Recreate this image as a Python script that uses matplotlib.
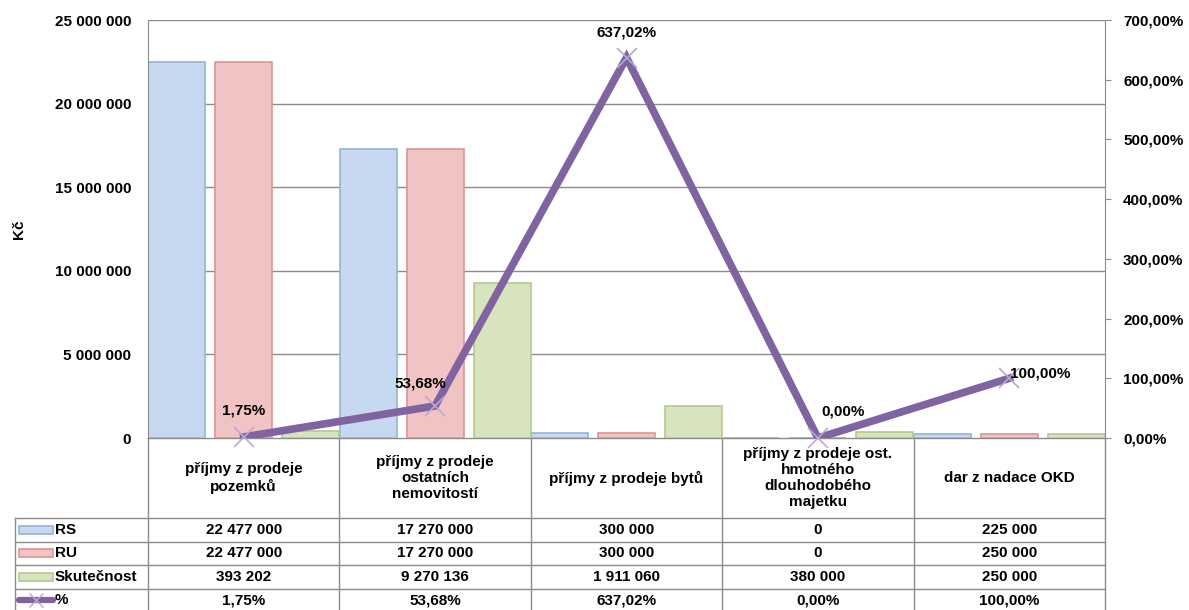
import matplotlib
matplotlib.use("Agg")
from matplotlib import pyplot as plt
from matplotlib.patches import Rectangle
import numpy as np

plt.rcParams['font.family'] = ['Liberation Sans', 'DejaVu Sans']
plt.rcParams['font.weight'] = 'bold'
plt.rcParams['font.size'] = 11

categories = ["příjmy z prodeje\npozemků",
              "příjmy z prodeje\nostatních\nnemovitostí",
              "příjmy z prodeje bytů",
              "příjmy z prodeje ost.\nhmotného\ndlouhodobého\nmajetku",
              "dar z nadace OKD"]
rs = [22477000, 17270000, 300000, 0, 225000]
ru = [22477000, 17270000, 300000, 0, 250000]
skutecnost = [393202, 9270136, 1911060, 380000, 250000]
pct = [1.75, 53.68, 637.02, 0.00, 100.00]

series_names = ["RS", "RU", "Skutečnost"]
fills = ["#c6d9f1", "#f2c3c3", "#d7e4bd"]
edges = ["#95b3d7", "#d99694", "#b5c98e"]
line_col = "#8064a2"
grid_col = "#8c8c8c"


def fmt_num(v):
    return "{:,}".format(int(v)).replace(",", " ")


def fmt_pct(v):
    return "{:.2f}%".format(v).replace(".", ",")


W, H = 1189, 610
fig = plt.figure(figsize=(W / 100, H / 100), dpi=100)
L, R, T, B = 148, 1105, 20, 438
ax = fig.add_axes([L / W, 1 - B / H, (R - L) / W, (B - T) / H])
ax2 = ax.twinx()

x = np.arange(len(categories))
bw = 0.298
offs = [-0.35, 0.0, 0.35]
for vals, off, fc, ec in zip([rs, ru, skutecnost], offs, fills, edges):
    ax.bar(x + off, vals, width=bw, color=fc, edgecolor=ec, linewidth=1.2, zorder=2)

ax.set_xlim(-0.5, len(categories) - 0.5)
ax.set_ylim(0, 25000000)
ax.set_yticks(np.arange(0, 25000001, 5000000))
ax.set_yticklabels([fmt_num(v) for v in ax.get_yticks()])
ax.yaxis.grid(True, color=grid_col, linewidth=1)
ax.set_axisbelow(True)
ax.set_xticks([])
ax.tick_params(axis='y', length=0, pad=12)
ax.set_ylabel("Kč", fontweight='bold')
ax.yaxis.set_label_coords(-0.127, 0.5)
for s in ['top', 'bottom']:
    ax.spines[s].set_visible(False)
ax.spines['left'].set_color(grid_col)
ax.spines['right'].set_visible(False)

ax2.plot(x, pct, color=line_col, linewidth=5.5, zorder=3, solid_joinstyle='miter')
ax2.plot(x, pct, linestyle='none', marker='x', markersize=15, mew=1.2,
         color="#b9a9d2", zorder=4, clip_on=False)
ax2.set_ylim(0, 700)
ax2.set_yticks(np.arange(0, 701, 100))
ax2.set_yticklabels([fmt_pct(v) for v in ax2.get_yticks()])
ax2.tick_params(axis='y', length=4, color=grid_col, pad=9)
for s in ['top', 'bottom', 'left']:
    ax2.spines[s].set_visible(False)
ax2.spines['right'].set_color(grid_col)

label_offsets = [(0, 26), (-15, 22), (0, 25), (25, 26), (31, 5)]
for xi, v, off in zip(x, pct, label_offsets):
    ax2.annotate(fmt_pct(v), (xi, v), xytext=off, textcoords='offset pixels',
                 ha='center', va='center', zorder=5)

# data table below the plot, drawn in pixel coordinates
tab = fig.add_axes([0, 0, 1, 1], zorder=-1)
tab.set_xlim(0, W)
tab.set_ylim(H, 0)
tab.axis('off')
cw = (R - L) / len(categories)
rows = [518, 541.5, 565, 588.5, 612]
for i in range(len(categories) + 1):
    tab.plot([L + i * cw, L + i * cw], [B, H], color=grid_col, lw=1)
tab.plot([L, R], [B, B], color=grid_col, lw=1)
tab.plot([15, 15], [rows[0], H], color=grid_col, lw=1)
for yr in rows[:-1]:
    tab.plot([15, R], [yr, yr], color=grid_col, lw=1)

for i, c in enumerate(categories):
    tab.text(L + (i + 0.5) * cw, (B + rows[0]) / 2, c, ha='center', va='center',
             linespacing=1.2)

table_rows = [[fmt_num(v) for v in rs], [fmt_num(v) for v in ru],
              [fmt_num(v) for v in skutecnost], [fmt_pct(v) for v in pct]]
names = series_names + ["%"]
for r, (name, vals) in enumerate(zip(names, table_rows)):
    yc = (rows[r] + rows[r + 1]) / 2
    for i, t in enumerate(vals):
        tab.text(L + (i + 0.5) * cw, yc, t, ha='center', va='center')
    tab.text(55, yc, name, ha='left', va='center')
    if r < 3:
        tab.add_patch(Rectangle((19, yc - 4), 34, 8, facecolor=fills[r],
                                edgecolor=edges[r], lw=1.2))
    else:
        tab.plot([19, 53], [yc, yc], color=line_col, lw=4.5, solid_capstyle='round')
        tab.plot([36], [yc], marker='x', markersize=10, mew=1, color="#b9a9d2")

fig.savefig('out.png', dpi=100)
